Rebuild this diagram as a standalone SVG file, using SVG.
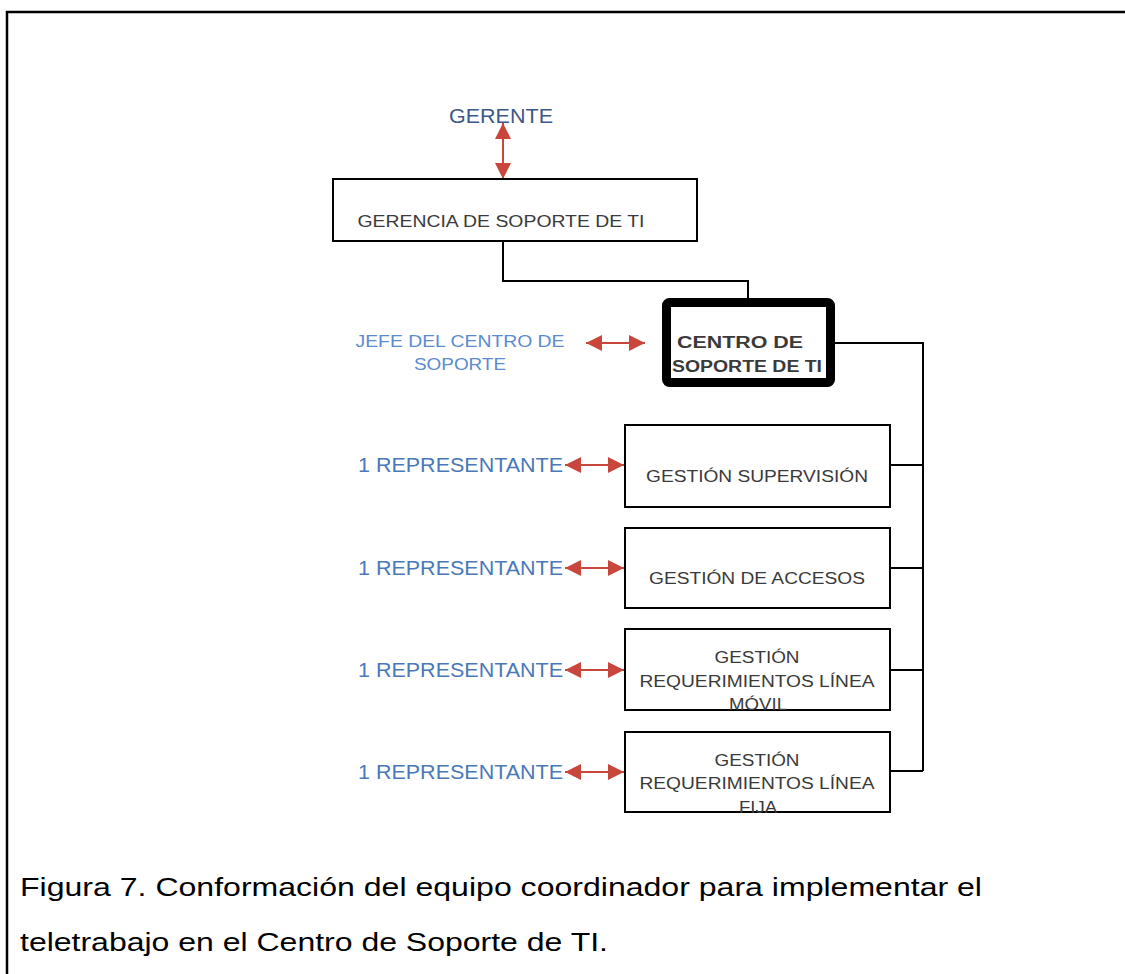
<svg xmlns="http://www.w3.org/2000/svg" width="1125" height="974" viewBox="0 0 1125 974">
<defs>
<style>
.box{fill:#fff;stroke:#000;stroke-width:2}
.bt{font-family:"Liberation Sans",Arial,sans-serif;font-size:16px;fill:#3a3a3a;text-anchor:middle}
.rep{font-family:"Liberation Sans",Arial,sans-serif;font-size:20px;fill:#4a78b8}
.conn{fill:none;stroke:#000;stroke-width:2}
.arr{fill:none;stroke:#c9463d;stroke-width:2;marker-start:url(#ah);marker-end:url(#ah)}
.cap{font-family:"Liberation Sans",Arial,sans-serif;font-size:26px;fill:#000}
</style>
<marker id="ah" viewBox="0 0 10 10" refX="10" refY="5" markerWidth="16" markerHeight="16" markerUnits="userSpaceOnUse" orient="auto-start-reverse">
<path d="M0,0 L10,5 L0,10 Z" fill="#c9463d"/>
</marker>
</defs>
<rect width="1125" height="974" fill="#fff"/>
<path d="M7,974 V12 H1125" fill="none" stroke="#000" stroke-width="2.5"/>

<g id="connectors">
<path class="conn" d="M503,241 V281 H748 V298"/>
<path class="conn" d="M835,343 H923 V771"/>
<path class="conn" d="M890,465 H923"/>
<path class="conn" d="M890,568 H923"/>
<path class="conn" d="M890,670 H923"/>
<path class="conn" d="M890,771 H923"/>
<line class="arr" x1="503" y1="123" x2="503" y2="179"/>
<line class="arr" x1="586" y1="343" x2="645" y2="343"/>
<line class="arr" x1="565" y1="465" x2="624" y2="465"/>
<line class="arr" x1="565" y1="568" x2="624" y2="568"/>
<line class="arr" x1="565" y1="670" x2="624" y2="670"/>
<line class="arr" x1="565" y1="772" x2="624" y2="772"/>
</g>

<g id="gerente">
<text x="449" y="123" font-family="'Liberation Sans',Arial,sans-serif" font-size="20" fill="#3d5888" textLength="104" lengthAdjust="spacingAndGlyphs">GERENTE</text>
</g>

<g id="gerencia">
<rect class="box" x="333" y="179" width="364" height="62"/>
<text class="bt" x="501" y="227" textLength="287" lengthAdjust="spacingAndGlyphs">GERENCIA DE SOPORTE DE TI</text>
</g>

<g id="jefe">
<text font-family="'Liberation Sans',Arial,sans-serif" font-size="16" fill="#5b8bd0" text-anchor="middle"><tspan x="460" y="347" textLength="209" lengthAdjust="spacingAndGlyphs">JEFE DEL CENTRO DE</tspan><tspan x="460" y="370" textLength="92" lengthAdjust="spacingAndGlyphs">SOPORTE</tspan></text>
</g>

<g id="centro">
<rect x="666.5" y="302.5" width="164" height="80" rx="3" fill="#fff" stroke="#000" stroke-width="9"/>
<text class="bt" font-weight="bold" fill="#222"><tspan x="740" y="348" textLength="126" lengthAdjust="spacingAndGlyphs">CENTRO DE</tspan><tspan x="747" y="372" textLength="150" lengthAdjust="spacingAndGlyphs">SOPORTE DE TI</tspan></text>
</g>

<g id="rep1"><text class="rep" x="358" y="472" textLength="205" lengthAdjust="spacingAndGlyphs">1 REPRESENTANTE</text></g>
<g id="rep2"><text class="rep" x="358" y="575" textLength="205" lengthAdjust="spacingAndGlyphs">1 REPRESENTANTE</text></g>
<g id="rep3"><text class="rep" x="358" y="677" textLength="205" lengthAdjust="spacingAndGlyphs">1 REPRESENTANTE</text></g>
<g id="rep4"><text class="rep" x="358" y="779" textLength="205" lengthAdjust="spacingAndGlyphs">1 REPRESENTANTE</text></g>

<g id="supervision">
<rect class="box" x="625" y="425" width="265" height="82"/>
<text class="bt" x="757" y="482" textLength="222" lengthAdjust="spacingAndGlyphs">GESTIÓN SUPERVISIÓN</text>
</g>

<g id="accesos">
<rect class="box" x="625" y="528" width="265" height="80"/>
<text class="bt" x="757" y="584" textLength="216" lengthAdjust="spacingAndGlyphs">GESTIÓN DE ACCESOS</text>
</g>

<g id="movil">
<rect class="box" x="625" y="629" width="265" height="81"/>
<text class="bt"><tspan x="757" y="663" textLength="85" lengthAdjust="spacingAndGlyphs">GESTIÓN</tspan><tspan x="757" y="687" textLength="235" lengthAdjust="spacingAndGlyphs">REQUERIMIENTOS LÍNEA</tspan><tspan x="758" y="710" textLength="58" lengthAdjust="spacingAndGlyphs">MÓVIL</tspan></text>
</g>

<g id="fija">
<rect class="box" x="625" y="732" width="265" height="80"/>
<text class="bt"><tspan x="757" y="766" textLength="85" lengthAdjust="spacingAndGlyphs">GESTIÓN</tspan><tspan x="757" y="789" textLength="235" lengthAdjust="spacingAndGlyphs">REQUERIMIENTOS LÍNEA</tspan><tspan x="758" y="813" textLength="38" lengthAdjust="spacingAndGlyphs">FIJA</tspan></text>
</g>

<g id="caption">
<text class="cap" x="20" y="896" textLength="962" lengthAdjust="spacingAndGlyphs">Figura 7. Conformación del equipo coordinador para implementar el</text>
<text class="cap" x="20" y="951" textLength="588" lengthAdjust="spacingAndGlyphs">teletrabajo en el Centro de Soporte de TI.</text>
</g>
</svg>
